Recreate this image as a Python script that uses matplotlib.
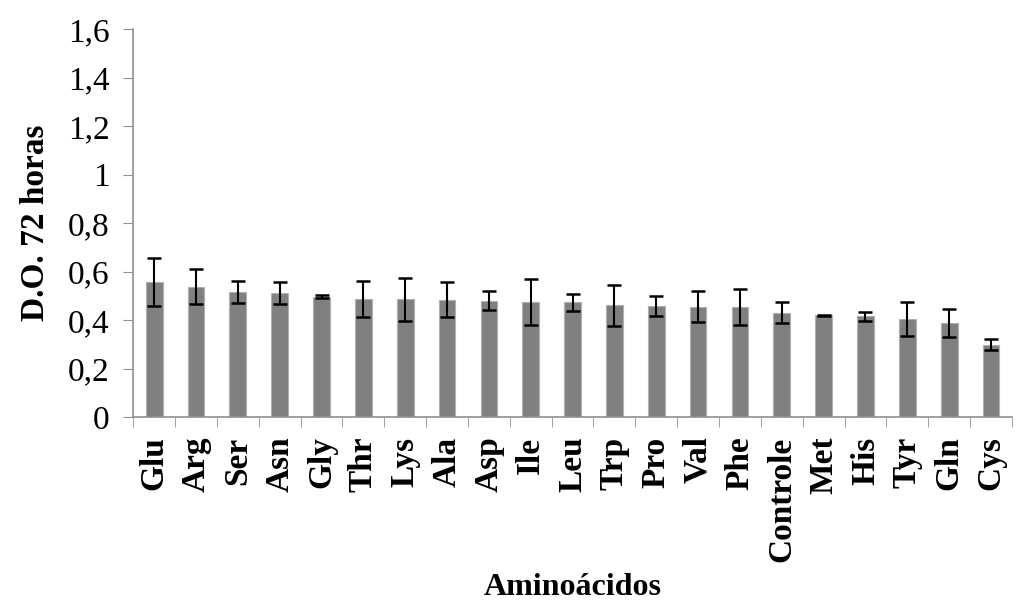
import numpy as np
import matplotlib
matplotlib.use('Agg')
from matplotlib import pyplot as plt

# Data
aminoacidos = ['Glu', 'Arg', 'Ser', 'Asn', 'Gly', 'Thr', 'Lys', 'Ala', 'Asp', 'Ile',
               'Leu', 'Trp', 'Pro', 'Val', 'Phe', 'Controle', 'Met', 'His', 'Tyr',
               'Gln', 'Cys']
do_72h = [0.557, 0.537, 0.514, 0.510, 0.496, 0.487, 0.485, 0.484, 0.480, 0.474,
          0.473, 0.460, 0.458, 0.455, 0.455, 0.431, 0.419, 0.415, 0.404,
          0.389, 0.299]
erro = [0.100, 0.072, 0.045, 0.045, 0.007, 0.075, 0.089, 0.073, 0.040, 0.095,
        0.034, 0.086, 0.043, 0.063, 0.075, 0.044, 0.003, 0.019, 0.070,
        0.058, 0.022]
y_ticks = [0, 0.2, 0.4, 0.6, 0.8, 1.0, 1.2, 1.4, 1.6]
y_labels = ['0', '0,2', '0,4', '0,6', '0,8', '1', '1,2', '1,4', '1,6']

plt.rcParams['font.family'] = ['Liberation Serif', 'DejaVu Serif']

fig = plt.figure(figsize=(10.17, 6.07), dpi=100)
ax = fig.add_axes([0.131, 0.313, 0.864, 0.639])

x = np.arange(len(aminoacidos))
ax.bar(x, do_72h, width=0.4, color='#808080', edgecolor='#b0b0b0', linewidth=0.8,
       yerr=erro, error_kw=dict(ecolor='black', elinewidth=1.5, capsize=5, capthick=1.8))

ax.set_xlim(-0.5, len(aminoacidos) - 0.5)
ax.set_ylim(0, 1.6)
ax.set_yticks(y_ticks)
ax.set_yticklabels(y_labels, fontsize=24)

# category ticks sit between bars
ax.set_xticks(x)
ax.set_xticklabels(aminoacidos, rotation=90, fontsize=24, fontweight='bold')
ax.set_xticks(np.arange(-0.5, len(aminoacidos)), minor=True)
ax.tick_params(axis='x', which='major', length=0, pad=14)
ax.tick_params(axis='x', which='minor', length=7, color='#909090', direction='out')
ax.tick_params(axis='y', length=7, color='#909090', direction='out', pad=10)

for s in ['top', 'right']:
    ax.spines[s].set_visible(False)
for s in ['left', 'bottom']:
    ax.spines[s].set_color('#909090')
    ax.spines[s].set_linewidth(1.2)

ax.set_ylabel('D.O. 72 horas', fontsize=24, fontweight='bold', labelpad=12)
ax.set_xlabel('Aminoácidos', fontsize=23, fontweight='bold', labelpad=8)

fig.savefig('out.png', dpi=100)
